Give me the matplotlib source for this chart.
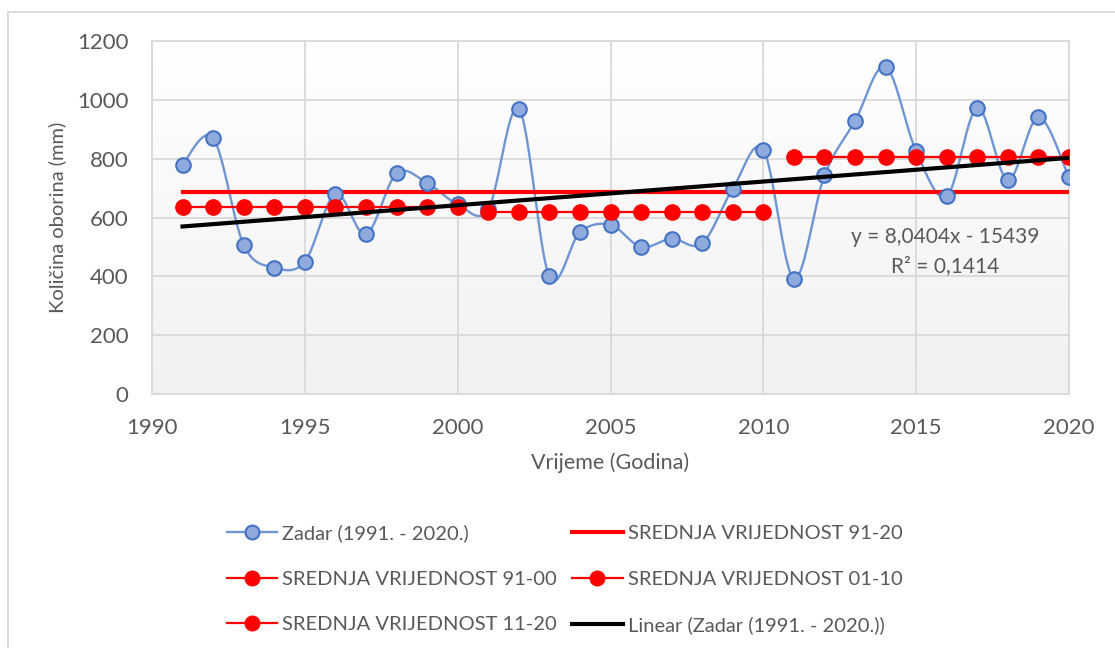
import numpy as np
from matplotlib import pyplot as plt, patches
from matplotlib.colors import LinearSegmentedColormap
from matplotlib.lines import Line2D

years = list(range(1991, 2021))
oborine = [780, 870, 507, 430, 450, 680, 543, 750, 717, 645,
           628, 970, 400, 550, 575, 500, 528, 512, 698, 830,
           392, 743, 928, 1112, 825, 672, 972, 728, 941, 736]
trend_slope = 8.0404
trend_intercept = -15439
r_squared = 0.1414

plt.rcParams['font.family'] = ['Lato', 'DejaVu Sans']
TEXT = '#595959'
FS = 14.5
TICK_FS = 16


def smooth(x, y, n=24):
    # bezier smoothing through every point (Excel "smoothed line" style)
    x = np.asarray(x, float)
    y = np.asarray(y, float)
    px = np.concatenate([[x[0]], x, [x[-1]]])
    py = np.concatenate([[y[0]], y, [y[-1]]])
    xs, ys = [], []
    t = np.linspace(0, 1, n)
    for i in range(1, len(px) - 2):
        p0 = np.array([px[i], py[i]])
        p3 = np.array([px[i + 1], py[i + 1]])
        p1 = p0 + (np.array([px[i + 1], py[i + 1]]) - np.array([px[i - 1], py[i - 1]])) / 6
        p2 = p3 - (np.array([px[i + 2], py[i + 2]]) - np.array([px[i], py[i]])) / 6
        b = ((1 - t) ** 3)[:, None] * p0 + (3 * (1 - t) ** 2 * t)[:, None] * p1 \
            + (3 * (1 - t) * t ** 2)[:, None] * p2 + (t ** 3)[:, None] * p3
        xs.extend(b[:, 0])
        ys.extend(b[:, 1])
    return xs, ys


fig = plt.figure(figsize=(11.15, 6.48), dpi=100)
ax = fig.add_axes([152 / 1115, 1 - 394 / 648, (1069 - 152) / 1115, (394 - 41) / 648])

# outer chart frame
fig.patches.append(patches.Rectangle((8 / 1115, -0.1), 1.2, 1 - 12 / 648 + 0.1,
                                     transform=fig.transFigure, fill=False,
                                     edgecolor='#d9d9d9', linewidth=1.3))

# plot area gradient
cmap = LinearSegmentedColormap.from_list('bg', ['#ffffff', '#f1f1f1'])
ax.imshow(np.linspace(0, 1, 256).reshape(-1, 1), cmap=cmap, aspect='auto',
          extent=[1990, 2020, 0, 1200], zorder=0)

blue_line = '#6f95d3'
blue_edge = '#4472c4'
blue_face = '#8faadc'
red = '#ff0000'

sx, sy = smooth(years, oborine)
ax.plot(sx, sy, color=blue_line, linewidth=1.7, zorder=3)
ax.plot(years, oborine, linestyle='none', marker='o', markersize=10.5,
        markerfacecolor=blue_face, markeredgecolor=blue_edge, markeredgewidth=1.5, zorder=4)

# means
mean_all = np.mean(oborine)
ax.plot([years[0], years[-1]], [mean_all, mean_all], color=red, linewidth=3, zorder=3)
for a, b in [(0, 10), (10, 20), (20, 30)]:
    m = np.mean(oborine[a:b])
    ax.plot(years[a:b], [m] * (b - a), color=red, linewidth=1.6, marker='o',
            markersize=11, zorder=5)

# linear trend
tx = np.array([years[0], years[-1]])
ax.plot(tx, trend_slope * tx + trend_intercept, color='black', linewidth=3, zorder=6)

ax.text(2015.95, 535, 'y = 8,0404x - 15439', ha='center', va='center',
        fontsize=15, color=TEXT, zorder=7)
ax.text(2015.95, 435, 'R² = ' + f'{r_squared:.4f}'.replace('.', ','), ha='center',
        va='center', fontsize=15, color=TEXT, zorder=7)

ax.set_xlim(1990, 2020)
ax.set_ylim(0, 1200)
ax.set_xticks(range(1990, 2021, 5))
ax.set_yticks(range(0, 1201, 200))
ax.grid(color='#d9d9d9', linewidth=1.3)
ax.set_axisbelow(True)
for s in ax.spines.values():
    s.set_color('#d9d9d9')
    s.set_linewidth(1.3)
ax.tick_params(length=0, labelsize=TICK_FS, labelcolor=TEXT)
ax.tick_params(axis='y', pad=17)
ax.tick_params(axis='x', pad=17)
ax.set_xlabel('Vrijeme (Godina)', fontsize=15.5, color=TEXT, va='center')
ax.set_ylabel('Količina oborina (mm)', fontsize=FS, color=TEXT, va='center')
ax.xaxis.set_label_coords(0.4995, -(463 - 394) / 353)
ax.yaxis.set_label_coords((57 - 152) / 917, 0.5)

handles = [
    Line2D([], [], color=blue_line, linewidth=1.7, marker='o', markersize=10,
           markerfacecolor=blue_face, markeredgecolor=blue_edge, markeredgewidth=1.5),
    Line2D([], [], color=red, linewidth=1.6, marker='o', markersize=10.5),
    Line2D([], [], color=red, linewidth=1.6, marker='o', markersize=10.5),
    Line2D([], [], color=red, linewidth=3),
    Line2D([], [], color=red, linewidth=1.6, marker='o', markersize=10.5),
    Line2D([], [], color='black', linewidth=3),
]
labels = ['Zadar (1991. - 2020.)', 'SREDNJA VRIJEDNOST 91-00', 'SREDNJA VRIJEDNOST 11-20',
          'SREDNJA VRIJEDNOST 91-20', 'SREDNJA VRIJEDNOST 01-10', 'Linear (Zadar (1991. - 2020.))']
leg = fig.legend(handles, labels, ncol=2, loc='upper left', bbox_to_anchor=(227 / 1115, 1 - 524 / 648),
                 frameon=False, fontsize=FS, handlelength=2.5, handletextpad=0.25,
                 columnspacing=0.75, labelspacing=1.42, borderaxespad=0, borderpad=0)
for t in leg.get_texts():
    t.set_color(TEXT)

fig.savefig('out.png', dpi=100)
